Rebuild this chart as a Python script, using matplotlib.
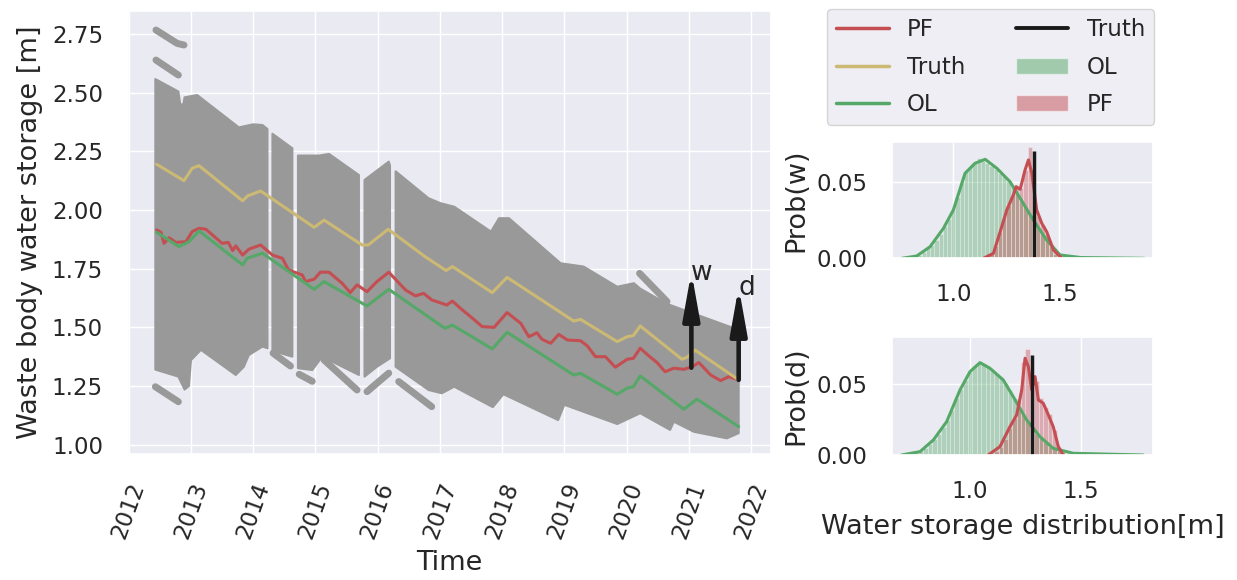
import numpy as np
import pandas as pd
import matplotlib
matplotlib.use('Agg')
import matplotlib.pyplot as plt
import matplotlib.dates as mdates
from matplotlib.ticker import MultipleLocator, FormatStrFormatter
from matplotlib.lines import Line2D
from matplotlib.patches import Patch
import seaborn as sns

# ---- time series (decimal years, metres) ----
truth_t = [2012.45, 2012.89, 2013.02, 2013.13, 2013.83, 2013.91, 2014.12, 2014.98, 2015.14,
           2015.75, 2015.85, 2016.17, 2016.77, 2017.10, 2017.20, 2017.84, 2018.08, 2019.15,
           2019.26, 2019.85, 2020.01, 2020.11, 2020.22, 2020.89, 2020.97, 2021.10, 2021.80]
truth_v = [2.195, 2.125, 2.178, 2.189, 2.039, 2.060, 2.081, 1.926, 1.957,
           1.851, 1.851, 1.918, 1.800, 1.742, 1.759, 1.648, 1.713, 1.527,
           1.534, 1.439, 1.460, 1.465, 1.506, 1.364, 1.372, 1.403, 1.276]

ol_t = [2012.45, 2012.81, 2012.97, 2013.13, 2013.83, 2013.90, 2014.15, 2014.98, 2015.14,
        2015.83, 2016.18, 2017.08, 2017.20, 2017.84, 2018.08, 2019.15, 2019.26, 2019.85,
        2020.01, 2020.11, 2020.22, 2020.92, 2021.13, 2021.80]
ol_v = [1.905, 1.844, 1.865, 1.911, 1.766, 1.794, 1.816, 1.662, 1.695,
        1.591, 1.662, 1.496, 1.510, 1.408, 1.479, 1.297, 1.304, 1.215,
        1.241, 1.247, 1.293, 1.151, 1.194, 1.077]

pf_t = [2012.45, 2012.52, 2012.57, 2012.65, 2012.76, 2012.92, 2013.02, 2013.13, 2013.24,
        2013.50, 2013.60, 2013.67, 2013.72, 2013.83, 2013.93, 2014.12, 2014.31, 2014.47,
        2014.57, 2014.79, 2014.84, 2014.98, 2015.08, 2015.22, 2015.43, 2015.56, 2015.67,
        2015.83, 2015.99, 2016.18, 2016.45, 2016.61, 2016.74, 2016.87, 2017.11, 2017.20,
        2017.33, 2017.49, 2017.68, 2017.87, 2018.08, 2018.30, 2018.43, 2018.56, 2018.64,
        2018.78, 2018.91, 2019.05, 2019.26, 2019.37, 2019.50, 2019.66, 2019.82, 2020.01,
        2020.11, 2020.22, 2020.36, 2020.49, 2020.62, 2020.76, 2020.92, 2021.05, 2021.16,
        2021.35, 2021.51, 2021.64, 2021.80]
pf_v = [1.915, 1.905, 1.858, 1.882, 1.862, 1.865, 1.908, 1.922, 1.918,
        1.858, 1.862, 1.827, 1.847, 1.808, 1.833, 1.851, 1.808, 1.794,
        1.744, 1.723, 1.695, 1.705, 1.735, 1.735, 1.688, 1.648, 1.681,
        1.652, 1.695, 1.735, 1.659, 1.634, 1.645, 1.617, 1.595, 1.612,
        1.581, 1.546, 1.503, 1.500, 1.563, 1.517, 1.460, 1.477, 1.449,
        1.432, 1.470, 1.446, 1.443, 1.421, 1.375, 1.375, 1.330, 1.364,
        1.368, 1.411, 1.378, 1.350, 1.311, 1.326, 1.321, 1.332, 1.350,
        1.297, 1.273, 1.290, 1.276]

# ensemble spread: upper / lower envelope and gaps without particles
band_top_t = [2012.43, 2012.80, 2012.83, 2012.88, 2012.90, 2013.10, 2013.77, 2014.00, 2014.15,
              2014.23, 2014.31, 2014.63, 2014.72, 2015.06, 2015.22, 2015.70, 2015.79, 2016.18,
              2016.20, 2016.29, 2016.82, 2017.01, 2017.23, 2017.82, 2017.95, 2018.11, 2018.94,
              2019.31, 2019.85, 2020.12, 2020.22, 2020.65, 2021.80]
band_top_v = [2.558, 2.505, 2.450, 2.450, 2.480, 2.490, 2.352, 2.365, 2.362,
              2.345, 2.325, 2.263, 2.232, 2.232, 2.239, 2.149, 2.128, 2.206,
              2.190, 2.165, 2.050, 2.029, 2.014, 1.908, 1.965, 1.965, 1.773,
              1.759, 1.673, 1.688, 1.665, 1.600, 1.489]
band_bot_t = [2012.43, 2012.80, 2012.90, 2012.97, 2013.00, 2013.16, 2013.72, 2013.85, 2013.93,
              2014.15, 2014.23, 2014.31, 2014.63, 2014.72, 2014.95, 2015.11, 2015.70, 2015.79,
              2015.99, 2016.20, 2016.29, 2016.82, 2017.03, 2017.23, 2017.85, 2018.02, 2018.90,
              2019.00, 2019.85, 2020.22, 2020.70, 2020.76, 2021.08, 2021.61, 2021.80]
band_bot_v = [1.320, 1.290, 1.235, 1.250, 1.360, 1.404, 1.297, 1.332, 1.382,
              1.418, 1.411, 1.400, 1.375, 1.326, 1.318, 1.375, 1.297, 1.290,
              1.332, 1.368, 1.332, 1.233, 1.219, 1.247, 1.160, 1.215, 1.105,
              1.170, 1.088, 1.134, 1.063, 1.098, 1.055, 1.027, 1.049]
band_segments = [(2012.43, 2014.23), (2014.31, 2014.63), (2014.72, 2015.70),
                 (2015.79, 2016.20), (2016.29, 2021.80)]

# stray particles running outside the main spread
stray_t = [[2012.44, 2012.78, 2012.89], [2012.44, 2012.80], [2012.43, 2012.80],
           [2014.32, 2014.60], [2014.74, 2014.95], [2015.14, 2015.67],
           [2015.83, 2016.18], [2016.34, 2016.87], [2020.21, 2020.65]]
stray_v = [[2.767, 2.710, 2.703], [2.639, 2.575], [1.247, 1.183],
           [1.390, 1.335], [1.300, 1.270], [1.361, 1.233],
           [1.226, 1.305], [1.269, 1.162], [1.730, 1.610]]

# arrows marking the two dates of the distributions
arrow_t = [2021.04, 2021.80]
arrow_base = [1.328, 1.276]
arrow_tip = [1.737, 1.673]
arrow_lab = ['w', 'd']

# ---- distributions (bin centres, heights) ----
bin_w = 0.02
ol_w_x = np.round(np.arange(0.80, 1.545, 0.02), 2)
ol_w_h = [0.001, 0.0015, 0.002, 0.004, 0.007, 0.009, 0.012, 0.016, 0.021, 0.026,
          0.032, 0.040, 0.050, 0.057, 0.060, 0.063, 0.066, 0.064, 0.063, 0.061,
          0.059, 0.056, 0.054, 0.051, 0.047, 0.043, 0.038, 0.034, 0.029, 0.025,
          0.020, 0.016, 0.012, 0.008, 0.005, 0.003, 0.002, 0.001]
pf_w_x = np.round(np.arange(1.16, 1.505, 0.02), 2)
pf_w_h = [0.001, 0.003, 0.008, 0.017, 0.027, 0.035, 0.042, 0.047, 0.046,
          0.058, 0.073, 0.045, 0.028, 0.022, 0.016, 0.008, 0.003, 0.001]
ol_d_x = np.round(np.arange(0.74, 1.445, 0.02), 2)
ol_d_h = [0.001, 0.002, 0.003, 0.005, 0.008, 0.011, 0.015, 0.020, 0.025, 0.032,
          0.040, 0.047, 0.053, 0.059, 0.063, 0.066, 0.064, 0.062, 0.060, 0.057,
          0.055, 0.051, 0.046, 0.040, 0.034, 0.029, 0.024, 0.019, 0.015, 0.012,
          0.009, 0.006, 0.004, 0.003, 0.002, 0.001]
pf_d_x = np.round(np.arange(1.10, 1.425, 0.02), 2)
pf_d_h = [0.001, 0.003, 0.006, 0.011, 0.019, 0.026, 0.038, 0.066, 0.075,
          0.050, 0.052, 0.040, 0.034, 0.029, 0.018, 0.006, 0.002]

ol_w_kde_x = [0.757, 0.827, 0.890, 0.953, 1.000, 1.055, 1.102, 1.150, 1.205, 1.267,
              1.315, 1.377, 1.440, 1.503, 1.600, 1.900]
ol_w_kde_y = [0.0, 0.0015, 0.0076, 0.0197, 0.0318, 0.0559, 0.0625, 0.0651, 0.0592, 0.0504,
              0.0395, 0.0252, 0.0120, 0.0022, 0.0005, 0.0]
pf_w_kde_x = [1.142, 1.189, 1.228, 1.252, 1.283, 1.296, 1.315, 1.338, 1.354, 1.370,
              1.393, 1.417, 1.440, 1.472, 1.511]
pf_w_kde_y = [0.0, 0.0033, 0.0208, 0.0318, 0.0417, 0.0471, 0.0454, 0.0581, 0.0647, 0.0559,
              0.0318, 0.0230, 0.0175, 0.0055, 0.0]
ol_d_kde_x = [0.692, 0.775, 0.835, 0.895, 0.955, 1.000, 1.045, 1.090, 1.150, 1.195,
              1.255, 1.315, 1.375, 1.465, 1.780]
ol_d_kde_y = [0.0, 0.0024, 0.0106, 0.0236, 0.0460, 0.0589, 0.0653, 0.0613, 0.0530, 0.0412,
              0.0248, 0.0130, 0.0047, 0.0012, 0.0]
pf_d_kde_x = [1.082, 1.135, 1.180, 1.210, 1.233, 1.248, 1.263, 1.278, 1.293, 1.308,
              1.330, 1.353, 1.375, 1.398, 1.420]
pf_d_kde_y = [0.0, 0.0059, 0.0200, 0.0283, 0.0460, 0.0684, 0.0624, 0.0460, 0.0554, 0.0389,
              0.0366, 0.0283, 0.0200, 0.0059, 0.0]
truth_w, truth_w_top = 1.382, 0.0708
truth_d, truth_d_top = 1.278, 0.0707


def yr2num(dec):
    dec = np.asarray(dec, dtype=float)
    yr = np.floor(dec).astype(int)
    start = pd.to_datetime(pd.Series(yr.astype(str)), format='%Y')
    days = pd.to_timedelta((dec - yr) * 365.25, unit='D')
    return mdates.date2num((start + days).dt.to_pydatetime())


sns.set_theme(style='darkgrid', font_scale=1.5, color_codes=True)
plt.rcParams['font.family'] = ['DejaVu Sans']

W, H = 1237, 580
fig = plt.figure(figsize=(W / 100, H / 100), dpi=100)

def px_axes(left, top, right, bottom):
    return fig.add_axes([left / W, 1 - bottom / H, (right - left) / W, (bottom - top) / H])

ax = px_axes(128, 11, 771, 454.3)
gray = '#999999'

btt, btv = np.array(band_top_t), np.array(band_top_v)
bbt, bbv = np.array(band_bot_t), np.array(band_bot_v)
for a, b in band_segments:
    mt = (btt >= a) & (btt <= b)
    mb = (bbt >= a) & (bbt <= b)
    xs = np.concatenate([btt[mt], bbt[mb][::-1]])
    ys = np.concatenate([btv[mt], bbv[mb][::-1]])
    ax.fill(yr2num(xs), ys, color=gray, lw=1.5, ec=gray, joinstyle='round')
for st, sv in zip(stray_t, stray_v):
    ax.plot(yr2num(st), sv, color=gray, lw=5, solid_capstyle='round')

ax.plot(yr2num(pf_t), pf_v, color='r', lw=2.2, label='PF')
ax.plot(yr2num(truth_t), truth_v, color='y', lw=2.2, label='Truth')
ax.plot(yr2num(ol_t), ol_v, color='g', lw=2.2, label='OL')

for t, b0, b1, lab in zip(arrow_t, arrow_base, arrow_tip, arrow_lab):
    x = yr2num([t])[0]
    ax.annotate('', xy=(x, b1), xytext=(x, b0),
                arrowprops=dict(arrowstyle='-|>,head_length=1.4,head_width=0.25',
                                lw=3.3, color='k', mutation_scale=20,
                                shrinkA=0, shrinkB=0))
    ax.text(x, b1 - 0.005, lab, fontsize=19, ha='left', va='center')

ax.set_xlim(yr2num([2011.99])[0], yr2num([2022.32])[0])
ax.set_ylim(0.959, 2.848)
ax.xaxis.set_major_locator(mdates.YearLocator(1))
ax.xaxis.set_major_formatter(mdates.DateFormatter('%Y'))
ax.yaxis.set_major_locator(MultipleLocator(0.25))
ax.yaxis.set_major_formatter(FormatStrFormatter('%.2f'))
ax.tick_params(length=0, pad=18)
plt.setp(ax.get_xticklabels(), rotation=70)
ax.set_xlabel('Time', fontsize=19.5, labelpad=6)
ax.set_ylabel('Waste body water storage [m]', fontsize=19.5, labelpad=6)

# distributions at the two dates
ax_w = px_axes(892.3, 142.3, 1152.7, 258.3)
ax_d = px_axes(892.3, 337.3, 1152.7, 455)
for a, olx, olh, pfx, pfh, okx, oky, pkx, pky, tx, ttop in [
        (ax_w, ol_w_x, ol_w_h, pf_w_x, pf_w_h, ol_w_kde_x, ol_w_kde_y,
         pf_w_kde_x, pf_w_kde_y, truth_w, truth_w_top),
        (ax_d, ol_d_x, ol_d_h, pf_d_x, pf_d_h, ol_d_kde_x, ol_d_kde_y,
         pf_d_kde_x, pf_d_kde_y, truth_d, truth_d_top)]:
    a.bar(olx, olh, width=bin_w, color='g', alpha=0.4, edgecolor='white', linewidth=0.5)
    a.bar(pfx, pfh, width=bin_w, color='r', alpha=0.4, edgecolor='white', linewidth=0.5)
    a.plot(okx, oky, color='g', lw=2.2)
    a.plot(pkx, pky, color='r', lw=2.2)
    a.vlines(tx, 0, ttop, color='k', lw=2.5)
    a.xaxis.set_major_locator(MultipleLocator(0.5))
    a.yaxis.set_major_locator(MultipleLocator(0.05))
    a.yaxis.set_major_formatter(FormatStrFormatter('%.2f'))
    a.tick_params(length=0, pad=18)

ax_w.set_xlim(0.712, 1.94)
ax_w.set_ylim(0, 0.0763)
ax_d.set_xlim(0.65, 1.823)
ax_d.set_ylim(0, 0.0832)
ax_w.set_ylabel('Prob(w)', fontsize=19.5, labelpad=5)
ax_d.set_ylabel('Prob(d)', fontsize=19.5, labelpad=5)
ax_d.set_xlabel('Water storage distribution[m]', fontsize=19.5, labelpad=8)

handles = [Line2D([], [], color='r', lw=2.5), Line2D([], [], color='y', lw=2.5),
           Line2D([], [], color='g', lw=2.5), Line2D([], [], color='k', lw=2.8),
           Patch(facecolor='g', alpha=0.5), Patch(facecolor='r', alpha=0.5)]
labels = ['PF', 'Truth', 'OL', 'Truth', 'OL', 'PF']
fig.legend(handles, labels, ncol=2, loc='upper left',
           bbox_to_anchor=(826.7 / W, 1 - 9.3 / H), borderaxespad=0,
           handlelength=2.3, columnspacing=2.2, labelspacing=0.62, fontsize=16.5)

fig.savefig('out.png', dpi=100)
